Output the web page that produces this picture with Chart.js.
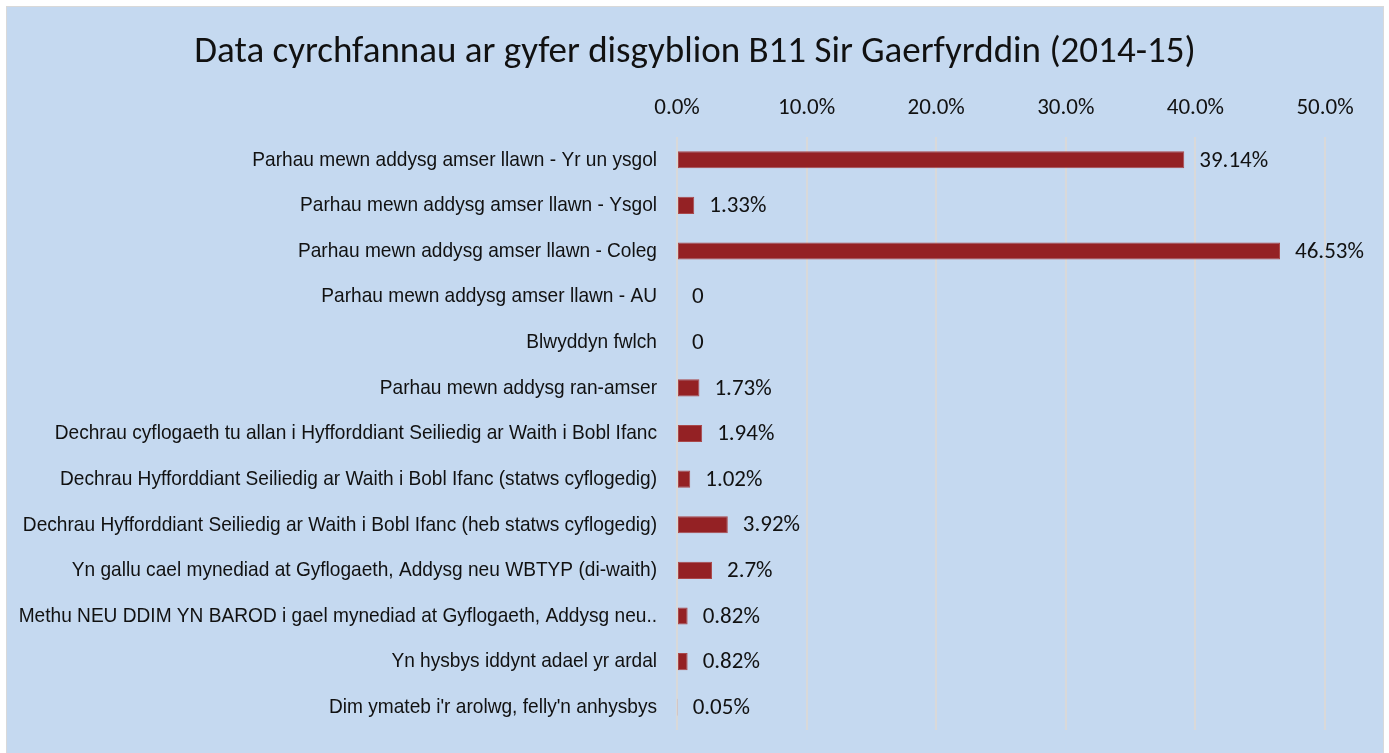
<!DOCTYPE html>
<html>
<head>
<meta charset="utf-8">
<script src="https://cdn.jsdelivr.net/npm/chart.js@4.4.0/dist/chart.umd.min.js"></script>
<style>
  html, body { margin: 0; padding: 0; background: #ffffff; }
  body { width: 1389px; height: 753px; overflow: hidden; position: relative; }
  .panel {
    position: absolute; left: 6px; top: 6px; width: 1376px; height: 760px;
    background: #c5d9f0; border: 1px solid #d9d9d9;
  }
  .panel canvas { display: block; }
</style>
</head>
<body>
<div class="panel"><canvas id="mainChart" width="1376" height="760"></canvas></div>
<script>
// Chart data
const categories = [
  'Parhau mewn addysg amser llawn - Yr un ysgol',
  'Parhau mewn addysg amser llawn - Ysgol',
  'Parhau mewn addysg amser llawn - Coleg',
  'Parhau mewn addysg amser llawn - AU',
  'Blwyddyn fwlch',
  'Parhau mewn addysg ran-amser',
  'Dechrau cyflogaeth tu allan i Hyfforddiant Seiliedig ar Waith i Bobl Ifanc',
  'Dechrau Hyfforddiant Seiliedig ar Waith i Bobl Ifanc (statws cyflogedig)',
  'Dechrau Hyfforddiant Seiliedig ar Waith i Bobl Ifanc (heb statws cyflogedig)',
  'Yn gallu cael mynediad at Gyflogaeth, Addysg neu WBTYP (di-waith)',
  'Methu NEU DDIM YN BAROD i gael mynediad at Gyflogaeth, Addysg neu..',
  'Yn hysbys iddynt adael yr ardal',
  "Dim ymateb i'r arolwg, felly'n anhysbys"
];
const percentages = [39.14, 1.33, 46.53, 0, 0, 1.73, 1.94, 1.02, 3.92, 2.7, 0.82, 0.82, 0.05];
const tickValues = [0, 10, 20, 30, 40, 50];

const labelFont = "'Liberation Sans', Arial, sans-serif";
const numFont = "Carlito, Lato, sans-serif";

// Draws the value next to the end of each bar
const valueLabels = {
  id: 'valueLabels',
  afterDatasetsDraw(chart) {
    const ctx = chart.ctx;
    const meta = chart.getDatasetMeta(0);
    ctx.save();
    ctx.font = '23px ' + numFont;
    ctx.fillStyle = '#111111';
    ctx.textAlign = 'left';
    ctx.textBaseline = 'middle';
    meta.data.forEach((bar, i) => {
      const v = percentages[i];
      const text = v === 0 ? '0' : v + '%';
      ctx.fillText(text, bar.x + 15, bar.y + 1);
    });
    ctx.restore();
  }
};

// Category labels in a narrow face (Arial squeezed sideways, like Arial Narrow)
const narrowLabels = {
  id: 'narrowLabels',
  afterDraw(chart) {
    const ctx = chart.ctx;
    const yScale = chart.scales.y;
    const right = chart.chartArea.left - 20;
    ctx.save();
    ctx.font = '21px ' + labelFont;
    ctx.fillStyle = '#111111';
    ctx.textAlign = 'right';
    ctx.textBaseline = 'middle';
    categories.forEach((label, i) => {
      const y = yScale.getPixelForTick(i);
      ctx.save();
      ctx.translate(right, y);
      ctx.scale(0.91, 1);
      ctx.fillText(label, 0, 0);
      ctx.restore();
    });
    ctx.restore();
  }
};

const ctx = document.getElementById('mainChart').getContext('2d');
const chart = new Chart(ctx, {
  type: 'bar',
  data: {
    labels: categories,
    datasets: [{
      data: percentages,
      backgroundColor: '#942124',
      borderColor: '#a9484a',
      borderWidth: 1,
      borderSkipped: false,
      barPercentage: 0.375,
      categoryPercentage: 1
    }]
  },
  options: {
    indexAxis: 'y',
    responsive: false,
    animation: false,
    layout: {
      padding: { left: 58, right: 58, bottom: 37 }
    },
    plugins: {
      legend: { display: false },
      tooltip: { enabled: false },
      title: {
        display: true,
        text: 'Data cyrchfannau ar gyfer disgyblion B11 Sir Gaerfyrddin (2014-15)',
        color: '#111111',
        font: { family: numFont, size: 37, weight: 'normal' },
        padding: { top: 24, bottom: 4 }
      }
    },
    scales: {
      x: {
        position: 'top',
        min: 0,
        max: 50,
        afterBuildTicks(scale) {
          scale.ticks = tickValues.map(v => ({ value: v }));
        },
        grid: {
          color: '#d9d9d9',
          lineWidth: 2,
          drawTicks: false
        },
        border: { display: false },
        ticks: {
          color: '#111111',
          padding: 15,
          font: { family: numFont, size: 23 },
          callback: function(value) {
            return value.toFixed(1) + '%';
          }
        }
      },
      y: {
        afterFit(scale) {
          scale.width = 612;
        },
        grid: { display: false, drawTicks: false },
        border: { display: false },
        ticks: { display: false }
      }
    }
  },
  plugins: [valueLabels, narrowLabels]
});
</script>
</body>
</html>
